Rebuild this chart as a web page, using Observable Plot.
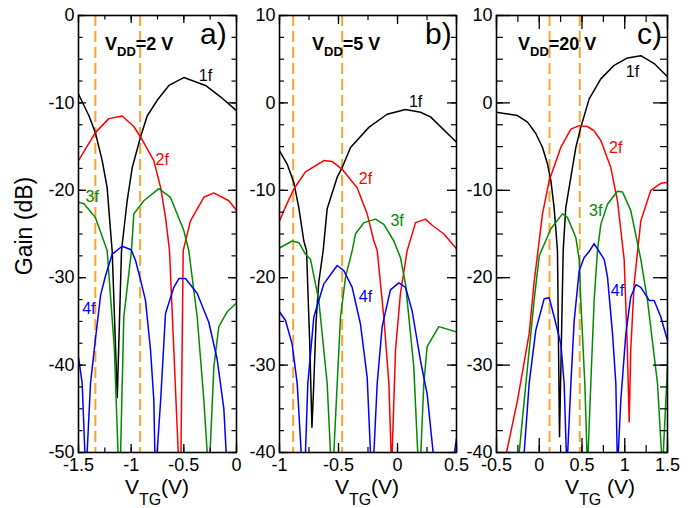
<!DOCTYPE html>
<html><head><meta charset="utf-8">
<script src="https://cdn.jsdelivr.net/npm/d3@7"></script>
<script src="https://cdn.jsdelivr.net/npm/@observablehq/plot@0.6"></script>
<style>
body{margin:0;background:#fff;}
#chart{position:relative;width:696px;height:508px;overflow:hidden;font-family:"Liberation Sans",Arial,sans-serif;}
#chart svg{position:absolute;top:0;max-width:none;}
</style></head><body><div id="chart"></div>
<script>
// ---------- Panel a) VDD = 2 V : [VTG (V), Gain (dB)] ----------
const a1f = [[-1.5,-9.0],[-1.4,-11.5],[-1.34,-13.4],[-1.275,-16.6],[-1.228,-19.7],[-1.2,-24],[-1.18,-27],[-1.132,-43.7],[-1.092,-27],[-1.085,-26.2],[-1.038,-21.2],[-0.99,-17.4],[-0.911,-13.9],[-0.848,-11.5],[-0.753,-9.7],[-0.642,-8.0],[-0.5,-7.1],[-0.294,-8.0],[-0.152,-9.3],[0,-10.9]];
const a2f = [[-1.5,-16.6],[-1.34,-13.4],[-1.212,-11.8],[-1.085,-11.5],[-0.975,-12.7],[-0.911,-13.9],[-0.785,-16.6],[-0.72,-19.7],[-0.674,-23.1],[-0.636,-26.9],[-0.553,-50],[-0.53,-53],[-0.506,-26.9],[-0.437,-23.5],[-0.31,-20.8],[-0.215,-20.3],[-0.073,-21.2],[0,-22.3]];
const a3f = [[-1.5,-21.4],[-1.45,-21.5],[-1.34,-23.1],[-1.26,-25.8],[-1.228,-26.9],[-1.16,-38],[-1.11,-55],[-1.07,-34.5],[-0.997,-26.9],[-0.975,-22.7],[-0.88,-21.2],[-0.737,-19.8],[-0.627,-20.8],[-0.5,-24.6],[-0.453,-26.9],[-0.373,-34.5],[-0.31,-44],[-0.262,-53],[-0.215,-40.2],[-0.168,-35.6],[-0.089,-33.9],[0,-32.9]];
const a4f = [[-1.5,-39.1],[-1.465,-42.1],[-1.43,-53],[-1.386,-42.1],[-1.339,-37.0],[-1.29,-32.0],[-1.244,-29.8],[-1.18,-27.3],[-1.085,-26.4],[-1.0,-26.8],[-0.959,-28.0],[-0.91,-30.3],[-0.864,-32.6],[-0.816,-38.3],[-0.785,-44],[-0.77,-53],[-0.72,-44],[-0.674,-34.1],[-0.595,-31.1],[-0.547,-30.1],[-0.484,-30.1],[-0.373,-31.8],[-0.263,-35.1],[-0.184,-39.3],[-0.12,-45],[-0.085,-53]];
const aDash = [-1.34, -0.915];
const aLabels = [{t:"1f",x:-0.294,y:-6.9,c:"#000000"},{t:"2f",x:-0.705,y:-16.5,c:"#ff0000"},{t:"3f",x:-1.37,y:-20.7,c:"#008c00"},{t:"4f",x:-1.402,y:-33.6,c:"#0000ff"}];
const aXTicks = [-1.5,-1,-0.5,0];
const aYTicks = [0,-10,-20,-30,-40,-50];

// ---------- Panel b) VDD = 5 V ----------
const b1f = [[-1,-5.5],[-0.935,-7.0],[-0.879,-9.1],[-0.836,-12],[-0.794,-15.8],[-0.771,-16.9],[-0.745,-27],[-0.725,-37.1],[-0.712,-33],[-0.69,-25],[-0.667,-20.5],[-0.63,-16.9],[-0.596,-12.1],[-0.511,-8.5],[-0.469,-7.4],[-0.398,-5.1],[-0.243,-2.8],[-0.088,-1.3],[0.068,-0.76],[0.195,-1.07],[0.28,-1.6],[0.5,-4.5]];
const b2f = [[-1,-13.5],[-0.949,-11.9],[-0.879,-9.85],[-0.78,-7.9],[-0.624,-6.6],[-0.554,-6.7],[-0.469,-7.6],[-0.342,-9.7],[-0.257,-12.7],[-0.2,-15.8],[-0.172,-16.9],[-0.116,-24.5],[-0.073,-32.1],[-0.05,-42],[-0.017,-28.3],[0.025,-21.8],[0.082,-16.9],[0.153,-13.7],[0.237,-13.3],[0.294,-14.0],[0.393,-15.0],[0.5,-16.7]];
const b3f = [[-1,-16.6],[-0.893,-15.8],[-0.836,-16.0],[-0.78,-17.3],[-0.737,-17.9],[-0.667,-22.6],[-0.596,-32.1],[-0.554,-44],[-0.511,-32.1],[-0.483,-24.5],[-0.44,-19.9],[-0.384,-16.9],[-0.356,-15.0],[-0.285,-13.7],[-0.186,-13.3],[-0.116,-13.9],[-0.031,-15.8],[0.025,-17.7],[0.068,-20.7],[0.138,-30.2],[0.185,-44],[0.223,-32.1],[0.251,-27.9],[0.35,-25.6],[0.5,-26.2]];
const b4f = [[-1,-23.9],[-0.949,-24.9],[-0.893,-27.6],[-0.85,-32.1],[-0.816,-40],[-0.8,-45],[-0.78,-40],[-0.76,-32.1],[-0.709,-24.5],[-0.624,-20.7],[-0.511,-18.6],[-0.455,-19.2],[-0.384,-21.1],[-0.314,-25.3],[-0.257,-31.4],[-0.229,-40],[-0.215,-45],[-0.2,-40],[-0.172,-32.1],[-0.13,-25.6],[-0.06,-21.4],[0.011,-20.6],[0.068,-21.1],[0.124,-23.8],[0.195,-29.5],[0.251,-33.3],[0.302,-40],[0.33,-46],[0.45,-46],[0.483,-40],[0.5,-38.4]];
const bDash = [-0.884, -0.469];
const bLabels = [{t:"1f",x:0.153,y:0.1,c:"#000000"},{t:"2f",x:-0.271,y:-8.7,c:"#ff0000"},{t:"3f",x:-0.003,y:-13.5,c:"#008c00"},{t:"4f",x:-0.271,y:-22.2,c:"#0000ff"}];
const bXTicks = [-1,-0.5,0,0.5];
const bYTicks = [10,0,-10,-20,-30,-40];

// ---------- Panel c) VDD = 20 V ----------
const c1f = [[-0.5,-1.07],[-0.41,-1.2],[-0.254,-1.45],[-0.137,-2.2],[-0.04,-3.5],[0.038,-5.1],[0.097,-7.0],[0.136,-8.9],[0.174,-12],[0.213,-16.9],[0.237,-38.2],[0.28,-16.9],[0.31,-12],[0.37,-8.5],[0.428,-5.1],[0.486,-2.8],[0.584,0.46],[0.72,2.75],[0.876,4.3],[1.032,5.15],[1.188,5.4],[1.344,4.5],[1.5,3.0]];
const c2f = [[-0.5,-45.4],[-0.383,-40],[-0.254,-34.0],[-0.118,-26.4],[-0.06,-20.5],[0.038,-12.7],[0.116,-8.9],[0.252,-5.1],[0.37,-3.0],[0.467,-2.6],[0.564,-2.7],[0.642,-3.2],[0.72,-4.3],[0.837,-7.4],[0.915,-11.2],[0.993,-17.9],[1.03,-28],[1.052,-36.5],[1.07,-28.3],[1.11,-20.7],[1.188,-13.5],[1.305,-10.0],[1.422,-9.2],[1.5,-9.1]];
const c3f = [[-0.3,-46],[-0.235,-40],[-0.137,-30.2],[-0.06,-22.6],[0.0,-17.5],[0.136,-14.4],[0.272,-12.7],[0.33,-13.1],[0.428,-15.4],[0.467,-17.9],[0.486,-22.6],[0.533,-32.1],[0.564,-42],[0.603,-32.1],[0.642,-22.6],[0.681,-16.9],[0.72,-13.9],[0.798,-11.6],[0.915,-10.1],[0.974,-10.2],[1.07,-12.3],[1.188,-17.9],[1.266,-22.6],[1.383,-32.1],[1.441,-42],[1.5,-30.2]];
const c4f = [[-0.22,-48],[-0.176,-40],[-0.118,-32.1],[-0.04,-26],[0.058,-22.4],[0.116,-22.3],[0.175,-24.5],[0.253,-27.6],[0.291,-32.1],[0.323,-42],[0.37,-32.1],[0.408,-25],[0.467,-19.2],[0.525,-17.7],[0.584,-17],[0.642,-16.1],[0.7,-17],[0.76,-17.9],[0.798,-19.9],[0.857,-26.4],[0.896,-32.1],[0.915,-42],[0.954,-34.0],[1.013,-26.4],[1.07,-22.2],[1.13,-20.8],[1.188,-21.1],[1.286,-22.6],[1.344,-22.6],[1.422,-24.5],[1.5,-27.2]];
const cDash = [0.12, 0.474];
const cLabels = [{t:"1f",x:1.09,y:3.5,c:"#000000"},{t:"2f",x:0.895,y:-5.1,c:"#ff0000"},{t:"3f",x:0.661,y:-12.3,c:"#008c00"},{t:"4f",x:0.915,y:-21.5,c:"#0000ff"}];
const cXTicks = [-0.5,0,0.5,1,1.5];
const cYTicks = [10,0,-10,-20,-30,-40];

const seriesColors = ["#000000","#ff0000","#008c00","#0000ff"];
const ORANGE = "#f7a531";

const panels = [
  {left:0,   ml:78, fw:158, mr:10, xd:[-1.5,0],  yd:[-50,0], series:[a1f,a2f,a3f,a4f], dash:aDash, labels:aLabels, xt:aXTicks, yt:aYTicks, maj:8,  min:4.5,
   letter:"a)", lx:200, vdd:"2", vx:105, xc:157, sp:""},
  {left:240, ml:39, fw:177, mr:10, xd:[-1,0.5],  yd:[-40,10], series:[b1f,b2f,b3f,b4f], dash:bDash, labels:bLabels, xt:bXTicks, yt:bYTicks, maj:9, min:5,
   letter:"b)", lx:425, vdd:"5", vx:312, xc:367, sp:""},
  {left:460, ml:36, fw:171, mr:10, xd:[-0.5,1.5], yd:[-40,10], series:[c1f,c2f,c3f,c4f], dash:cDash, labels:cLabels, xt:cXTicks, yt:cYTicks, maj:14, min:7,
   letter:"c)", lx:637, vdd:"20", vx:518, xc:600, sp:" "}
];

const FH = 437;
const chart = document.getElementById("chart");

function minorRange(d, step){ return d3.range(Math.ceil(d[0]/step)*step, d[1]+1e-9, step); }

for (const p of panels) {
  const xMinor = minorRange(p.xd, 0.25);
  const yMinor = minorRange(p.yd, 2.5);
  const marks = [];
  marks.push(Plot.ruleX(p.dash, {x: d => d, stroke: ORANGE, strokeWidth: 2, strokeDasharray: "11,5"}));
  p.series.forEach((s, i) => {
    marks.push(Plot.line(s, {x: d => d[0], y: d => d[1], stroke: seriesColors[i], strokeWidth: 1.5, clip: true}));
  });
  marks.push(Plot.text(p.labels, {x: "x", y: "y", text: "t", fill: "c", fontSize: 16, textAnchor: "middle"}));
  const fw = p.fw;
  marks.push(Plot.tickY(p.yt, {y: d => d, insetRight: fw - p.maj, stroke: "black", strokeWidth: 1.3}));
  marks.push(Plot.tickY(p.yt, {y: d => d, insetLeft: fw - p.maj, stroke: "black", strokeWidth: 1.3}));
  marks.push(Plot.tickY(yMinor, {y: d => d, insetRight: fw - p.min, stroke: "black", strokeWidth: 1.2}));
  marks.push(Plot.tickY(yMinor, {y: d => d, insetLeft: fw - p.min, stroke: "black", strokeWidth: 1.2}));
  marks.push(Plot.tickX(p.xt, {x: d => d, insetTop: FH - p.maj, stroke: "black", strokeWidth: 1.3}));
  marks.push(Plot.tickX(p.xt, {x: d => d, insetBottom: FH - p.maj, stroke: "black", strokeWidth: 1.3}));
  marks.push(Plot.tickX(xMinor, {x: d => d, insetTop: FH - p.min, stroke: "black", strokeWidth: 1.2}));
  marks.push(Plot.tickX(xMinor, {x: d => d, insetBottom: FH - p.min, stroke: "black", strokeWidth: 1.2}));
  marks.push(Plot.axisX(p.xt, {anchor: "bottom", tickSize: 0, tickPadding: 6, fontSize: 18, tickFormat: d => String(d), label: null, fill: "black"}));
  marks.push(Plot.axisY(p.yt, {anchor: "left", tickSize: 0, tickPadding: 4, fontSize: 18, tickFormat: d => String(d), label: null, fill: "black"}));
  marks.push(Plot.frame({stroke: "black", strokeWidth: 1.6}));

  const svg = Plot.plot({
    width: p.ml + p.fw + p.mr, height: 508,
    marginTop: 15, marginBottom: 56, marginLeft: p.ml, marginRight: p.mr,
    x: {domain: p.xd},
    y: {domain: p.yd},
    style: {background: "transparent", fontFamily: "'Liberation Sans', Arial, sans-serif", overflow: "visible", color: "black"},
    marks
  });
  svg.style.left = p.left + "px";
  chart.appendChild(svg);
}

// overlay: panel letters, VDD annotations, axis titles
const ov = d3.create("svg").attr("width", 696).attr("height", 508)
  .style("left", "0px").style("font-family", "'Liberation Sans', Arial, sans-serif");
for (const p of panels) {
  ov.append("text").attr("x", p.lx).attr("y", 44).attr("font-size", 30).text(p.letter);
  const t = ov.append("text").attr("x", p.vx).attr("y", 50).attr("font-size", 18).attr("font-weight", "bold");
  t.append("tspan").text("V");
  t.append("tspan").attr("font-size", 13).attr("dy", 6).text("DD");
  t.append("tspan").attr("dy", -6).text("=" + p.vdd + " V");
  const xl = ov.append("text").attr("x", p.xc).attr("y", 494).attr("font-size", 21).attr("text-anchor", "middle");
  xl.append("tspan").text("V");
  xl.append("tspan").attr("font-size", 16).attr("dy", 11).text("TG");
  xl.append("tspan").attr("dy", -11).text(p.sp + "(V)");
}
ov.append("text").attr("transform", "translate(32,226) rotate(-90)").attr("text-anchor", "middle")
  .attr("font-size", 23).text("Gain (dB)");
chart.appendChild(ov.node());
</script>
</body></html>
